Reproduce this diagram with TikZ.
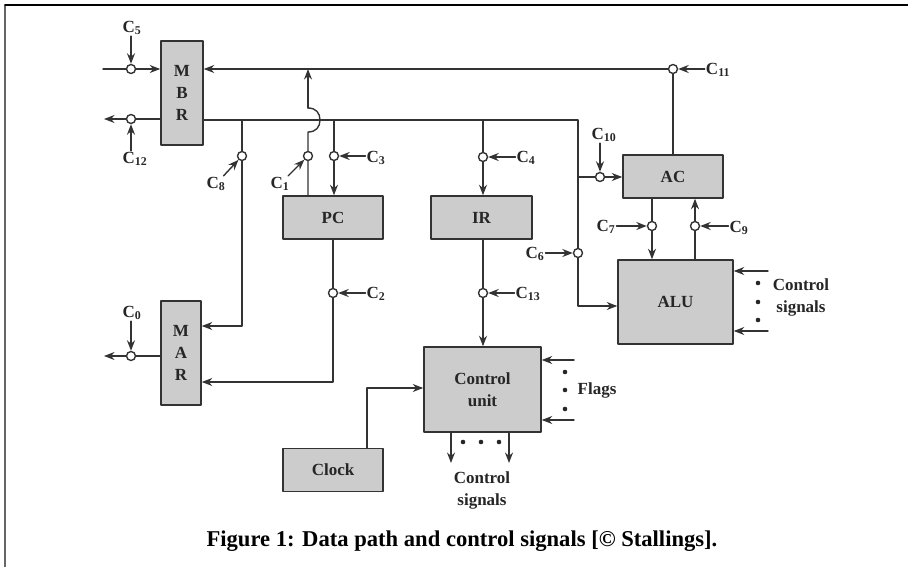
\documentclass[tikz,border=0pt]{standalone}
\usepackage{fontspec}
\setmainfont{Liberation Serif}
\usetikzlibrary{arrows.meta}

\newcommand{\sig}[1]{C\textsubscript{#1}}

\begin{document}
\begin{tikzpicture}[
	x=1pt,
	y=-1pt,
	line cap=round,
	line join=round,
	every node/.style={font=\fontsize{17}{22}\selectfont\bfseries, text=black!85, inner sep=1pt},
	wire/.style={line width=1.4pt, draw=black!80},
	flow/.style={wire, -{Stealth[length=10.5pt,width=8pt]}},
	regbox/.style={draw=black!80, line width=1.5pt, fill=black!20, inner sep=0pt, align=center},
	gate/.style={circle, draw=black!80, line width=1.4pt, fill=white, minimum size=9pt, inner sep=0pt},
	dot/.style={circle, fill=black!85, minimum size=4.6pt, inner sep=0pt}
	]
	\useasboundingbox (0,0) rectangle (908,567);
	\draw[line width=1.5pt, draw=black!60] (5,567) -- (5,5);
	\draw[line width=1.5pt, draw=black] (5,5) -- (908,5);

	% registers
	\node[regbox, minimum width=42pt, minimum height=104pt] (mbr) at (182,93) {M\\B\\R};
	\node[regbox, minimum width=40pt, minimum height=104pt] (mar) at (181,353) {M\\A\\R};
	\node[regbox, minimum width=100pt, minimum height=43pt] (pc) at (333,217.5) {PC};
	\node[regbox, minimum width=101pt, minimum height=43pt] (ir) at (481.5,217.5) {IR};
	\node[regbox, minimum width=100pt, minimum height=43pt] (ac) at (673,176.5) {AC};
	\node[regbox, minimum width=115pt, minimum height=84pt] (alu) at (675.5,302) {ALU};
	\node[regbox, minimum width=117pt, minimum height=85pt] (cu) at (482.5,389.5) {Control\\unit};
	\node[regbox, minimum width=100pt, minimum height=43pt] (clock) at (333,470) {Clock};

	% gates
	\node[gate] (g5) at (131,69) {};
	\node[gate] (g12) at (131,119) {};
	\node[gate] (g8) at (242,156) {};
	\node[gate] (g1) at (308,156) {};
	\node[gate] (g3) at (334,156) {};
	\node[gate] (g4) at (483,157) {};
	\node[gate] (g11) at (673,69) {};
	\node[gate] (g10) at (600,177) {};
	\node[gate] (g6) at (578,253) {};
	\node[gate] (g7) at (652,226) {};
	\node[gate] (g9) at (695,226) {};
	\node[gate] (g2) at (333,293) {};
	\node[gate] (g13) at (483,293) {};
	\node[gate] (g0) at (131,356) {};

	% control labels
	\node (c5) at (132,28) {\sig{5}};
	\node (c12) at (135,159) {\sig{12}};
	\node (c8) at (216,184) {\sig{8}};
	\node (c1) at (280,184) {\sig{1}};
	\node (c3) at (376,158) {\sig{3}};
	\node (c4) at (526,158) {\sig{4}};
	\node (c11) at (718,70) {\sig{11}};
	\node (c10) at (604,135) {\sig{10}};
	\node (c6) at (535,254) {\sig{6}};
	\node (c7) at (606,227) {\sig{7}};
	\node (c9) at (739,228) {\sig{9}};
	\node (c2) at (376,294) {\sig{2}};
	\node (c13) at (528,294) {\sig{13}};
	\node (c0) at (132,313) {\sig{0}};

	\draw[flow] (g5 |- c5.south) -- (g5);
	\draw[flow] (g12 |- c12.north) -- (g12);
	\draw[flow] (c8) -- (g8);
	\draw[flow] (c1) -- (g1);
	\draw[flow] (c3.west |- g3) -- (g3);
	\draw[flow] (c4.west |- g4) -- (g4);
	\draw[flow] (c11.west |- g11) -- (g11);
	\draw[flow] (g10 |- c10.south) -- (g10);
	\draw[flow] (c6.east |- g6) -- (g6);
	\draw[flow] (c7.east |- g7) -- (g7);
	\draw[flow] (c9.west |- g9) -- (g9);
	\draw[flow] (c2.west |- g2) -- (g2);
	\draw[flow] (c13.west |- g13) -- (g13);
	\draw[flow] (g0 |- c0.south) -- (g0);

	% free ends and bends
	\coordinate (inmbr) at (103,69);
	\coordinate (outmbr) at (104,119);
	\coordinate (outmar) at (104,356);
	\coordinate (busright) at (578,120);
	\coordinate (jumplow) at (308,132);
	\coordinate (jumphigh) at (308,108);
	\coordinate (jumptop) at (308,69);

	% memory buffer lines
	\draw[wire] (inmbr) -- (g5);
	\draw[flow] (g5) -- (mbr.west |- g5);
	\draw[flow] (mbr.west |- g12) -- (g12) -- (outmbr);
	\draw[flow] (g11) -- (mbr.east |- g11);
	\draw[wire] (mbr.east |- busright) -- (busright) -- (g6);
	\draw[wire] (g8 |- busright) -- (g8);
	\draw[flow] (g8) |- (mar.east |- 0,326);
	\draw[wire] (g3 |- busright) -- (g3);
	\draw[flow] (g3) -- (g3 |- pc.north);

	% program counter
	\draw[wire] (pc.north -| g1) -- (g1) -- (jumplow)
		.. controls (316,132) and (320,127) .. (320,120)
		.. controls (320,113) and (316,108) .. (jumphigh);
	\draw[flow] (jumphigh) -- (jumptop);
	\draw[wire] (pc.south -| g2) -- (g2);
	\draw[flow] (g2) |- (mar.east |- 0,382);

	% instruction register
	\draw[wire] (g4 |- busright) -- (g4);
	\draw[flow] (g4) -- (g4 |- ir.north);
	\draw[wire] (ir.south -| g13) -- (g13);
	\draw[flow] (g13) -- (g13 |- cu.north);

	% accumulator and alu
	\draw[wire] (ac.north -| g11) -- (g11);
	\draw[wire] (g10 -| busright) -- (g10);
	\draw[flow] (g10) -- (ac.west |- g10);
	\draw[wire] (ac.south -| g7) -- (g7);
	\draw[flow] (g7) -- (g7 |- alu.north);
	\draw[wire] (alu.north -| g9) -- (g9);
	\draw[flow] (g9) -- (g9 |- ac.south);
	\draw[flow] (g6) |- (alu.west |- 0,306);

	% memory address register
	\draw[wire] (mar.west |- g0) -- (g0);
	\draw[flow] (g0) -- (outmar);

	% clock
	\draw[flow] (clock.north -| 367,0) |- (cu.west |- 0,388);

	% alu control signals
	\coordinate (alutop) at (768,271);
	\coordinate (alubot) at (768,331);
	\draw[flow] (alutop) -- (alu.east |- alutop);
	\draw[flow] (alubot) -- (alu.east |- alubot);
	\node[dot] (alud1) at (758,283) {};
	\node[dot] (alud2) at (758,302) {};
	\node[dot] (alud3) at (758,320) {};
	\node[align=center] (alusig) at (801,297) {Control\\signals};

	% flags
	\coordinate (flagtop) at (574,360);
	\coordinate (flagbot) at (574,420);
	\draw[flow] (flagtop) -- (cu.east |- flagtop);
	\draw[flow] (flagbot) -- (cu.east |- flagbot);
	\node[dot] (flagd1) at (565,372) {};
	\node[dot] (flagd2) at (565,390) {};
	\node[dot] (flagd3) at (565,409) {};
	\node (flags) at (597,390) {Flags};

	% control unit outputs
	\coordinate (culeft) at (451,463);
	\coordinate (curight) at (509,463);
	\draw[flow] (cu.south -| culeft) -- (culeft);
	\draw[flow] (cu.south -| curight) -- (curight);
	\node[dot] (cud1) at (463,442) {};
	\node[dot] (cud2) at (481,442) {};
	\node[dot] (cud3) at (499,442) {};
	\node[align=center] (cusig) at (482,490) {Control\\signals};

	\node[font=\fontsize{22.6}{26}\selectfont\bfseries, text=black, anchor=base] (caption) at (462,546) {Figure 1: Data path and control signals [© Stallings].};
\end{tikzpicture}
\end{document}
